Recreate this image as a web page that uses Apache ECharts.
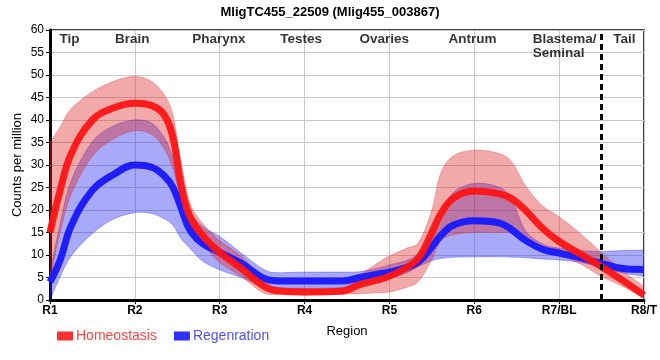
<!DOCTYPE html>
<html><head><meta charset="utf-8">
<script src="https://cdn.jsdelivr.net/npm/echarts@6/dist/echarts.min.js"></script>
<style>html,body{margin:0;padding:0;background:#fff}#c{width:660px;height:360px}</style>
</head><body><div id="c"></div>
<script>
const titleText = 'MligTC455_22509 (Mlig455_003867)';
const xTicks = ['R1','R2','R3','R4','R5','R6','R7/BL','R8/T'];
const regions = ['Tip','Brain','Pharynx','Testes','Ovaries','Antrum','Blastema/\nSeminal','Tail'];
const regionX = [1.23,1.97,2.99,3.96,4.94,5.98,6.69,7.77];
const tailBoundary = 7.5;

const xs =         [1,   1.12, 1.25, 1.5,  1.75, 2,    2.2,  2.35, 2.45, 2.55, 2.65, 2.8,  3,    3.25, 3.5, 3.65, 4,   4.45, 4.65, 4.85, 5,   5.2,  5.35, 5.5,  5.6,  5.75, 6,    6.3,  6.45, 6.6,  6.8,  7,    7.25, 7.5,  7.75, 8];
const homeoMean =  [15,  24.4, 32.5, 40,   42.7, 43.7, 43.2, 41,   36,   25,   18.5, 14.3, 10.6, 7.1,  3.3, 2.1,  1.8, 2.0,  3.4,  4.4,  5.3, 7.2,  9.5,  15,   19,   22.6, 24.2, 23.6, 22.4, 20,   16,   13,   10.2, 7.4,  4.3,  1.1];
const homeoUpper = [35,  38.5, 42.5, 46.3, 48.6, 49.7, 48.5, 45.5, 41,   30,   21.5, 17,   13.2, 9.8,  5,   2.9,  2.6, 2.8,  5.5,  8.1,  9.8, 11.5, 13,   20,   28,   32,   33.3, 32.5, 30.5, 25.5, 21,   18.5, 14.8, 10.5, 6.5,  3];
const homeoLower = [4.5, 15,   23.5, 32,   35.8, 37.6, 36.7, 33.5, 29,   22,   16.5, 12.5, 8.3,  5.3,  1.7, 1.2,  1.1, 1.3,  1.4,  1.6,  1.8, 2.8,  4.3,  9,    13,   14.5, 15,   15,   14.8, 13,   11.5, 10,   8,    5.2,  3,    0.4];
const regenMean =  [4,   8.9,  16.5, 24.4, 27.9, 30,   29.5, 27.5, 25,   20.2, 15.5, 12.5, 10.6, 8.2,  5,   4.3,  4.2, 4.2,  5,    5.7,  6.2, 7.2,  8.6,  11.8, 14.2, 16.6, 17.6, 17.1, 15.5, 13.3, 11.3, 10.4, 9.4,  8.1,  7,    6.8];
const regenUpper = [6,   17,   26.5, 35.2, 38.7, 40,   39.3, 36,   31.5, 23.5, 19.5, 16.3, 14.1, 10.5, 7,   6.1,  6.2, 6.2,  6.3,  7,    7.8, 8.8,  10.5, 14.5, 18.5, 23.8, 25.9, 25,   22,   15.5, 12.5, 11.5, 11,   10.8, 11,   11.1];
const regenLower = [0,   5.2,  9.8,  14.8, 18,   19.4, 19.2, 18,   16.6, 13.5, 11.5, 8.6,  6.7,  5,    3.1, 2.7,  2.6, 2.8,  3.5,  4.3,  4.8, 6,    7.5,  8.7,  9.2,  9.5,  9.6,  9.6,  9.5,  9.4,  9.1,  8.9,  8.4,  7.2,  6,    5.3];

const pts = ys => xs.map((x, i) => [x, ys[i]]);

// smooth curve through screen points (Catmull-Rom -> cubic Bezier)
function curveSegs(p) {
  let s = '';
  for (let i = 0; i < p.length - 1; i++) {
    const p0 = p[Math.max(i - 1, 0)], p1 = p[i], p2 = p[i + 1], p3 = p[Math.min(i + 2, p.length - 1)];
    const c1 = [p1[0] + (p2[0] - p0[0]) / 6, p1[1] + (p2[1] - p0[1]) / 6];
    const c2 = [p2[0] - (p3[0] - p1[0]) / 6, p2[1] - (p3[1] - p1[1]) / 6];
    s += 'C' + c1[0].toFixed(2) + ',' + c1[1].toFixed(2) + ' ' + c2[0].toFixed(2) + ',' + c2[1].toFixed(2) + ' ' + p2[0].toFixed(2) + ',' + p2[1].toFixed(2);
  }
  return s;
}
function bandRenderer(hi, lo, fill, stroke) {
  return function (params, api) {
    const up = xs.map((x, i) => api.coord([x, hi[i]]));
    const dn = xs.map((x, i) => api.coord([x, lo[i]])).reverse();
    const d = 'M' + up[0][0] + ',' + up[0][1] + curveSegs(up) + 'L' + dn[0][0] + ',' + dn[0][1] + curveSegs(dn) + 'Z';
    return { type: 'path', shape: { pathData: d }, style: { fill: fill, stroke: stroke, lineWidth: 1 } };
  };
}

const FONT = 'Liberation Sans, Arial, sans-serif';
const SM = 0.4;
const chart = echarts.init(document.getElementById('c'));

const regionData = regions.map((r, i) => {
  const d = { name: r, value: [regionX[i], 57.9] };
  if (r.indexOf('\n') >= 0) {
    d.value = [regionX[i], 59.4];
    d.label = { align: 'left', verticalAlign: 'top' };
  }
  return d;
});

chart.setOption({
  animation: false,
  backgroundColor: '#fff',
  textStyle: { fontFamily: FONT },
  title: {
    text: titleText, left: 'center', top: 1,
    textStyle: { fontSize: 13, fontWeight: 'bold', color: '#000', fontFamily: FONT }
  },
  grid: { left: 50, right: 10, top: 30, bottom: 60, show: true, borderColor: '#000', borderWidth: 1.5, containLabel: false },
  legend: {
    left: 52, top: 324, icon: 'rect', itemWidth: 16, itemHeight: 9, itemGap: 17,
    textStyle: { fontSize: 14, fontFamily: FONT, padding: [0, 0, 0, -2] },
    data: [
      { name: 'Homeostasis', itemStyle: { color: '#ff3030' }, textStyle: { color: '#ff4646' } },
      { name: 'Regenration', itemStyle: { color: '#3030ff' }, textStyle: { color: '#5050ff' } }
    ],
    selectedMode: false
  },
  xAxis: {
    type: 'value', min: 1, max: 8, interval: 1,
    name: 'Region', nameLocation: 'middle', nameGap: 25, nameMoveOverlap: false,
    nameTextStyle: { fontSize: 13, color: '#000', fontFamily: FONT },
    axisLine: { show: true, onZero: false, lineStyle: { color: '#000', width: 3 } },
    axisTick: { show: true, length: 4, lineStyle: { color: '#000', width: 1 } },
    axisLabel: { formatter: v => xTicks[Math.round(v) - 1] || '', fontSize: 12, fontWeight: 'bold', color: '#000', margin: 5, fontFamily: FONT },
    splitLine: { show: true, lineStyle: { color: '#c8c8c8', width: 1 } }
  },
  yAxis: {
    type: 'value', min: 0, max: 60, interval: 5,
    name: 'Counts per million', nameLocation: 'middle', nameGap: 26, nameMoveOverlap: false,
    nameTextStyle: { fontSize: 13, color: '#000', fontFamily: FONT },
    axisLine: { show: true, lineStyle: { color: '#000', width: 3 } },
    axisTick: { show: true, length: 4, lineStyle: { color: '#000', width: 1 } },
    axisLabel: { fontSize: 12, color: '#000', margin: 6, fontFamily: FONT },
    splitLine: { show: true, lineStyle: { color: '#c8c8c8', width: 1 } }
  },
  series: [
    { name: 'regenBand', type: 'custom', coordinateSystem: 'cartesian2d', clip: true, silent: true,
      data: [[1, 0]], renderItem: bandRenderer(regenUpper, regenLower, 'rgba(40,40,240,0.4)', 'rgba(40,40,240,0.35)') },
    { name: 'Regenration', type: 'line', data: pts(regenMean), smooth: SM, symbol: 'none', silent: true,
      lineStyle: { color: '#1e1eff', width: 7 }, itemStyle: { color: '#3030ff' } },
    { name: 'homeoBand', type: 'custom', coordinateSystem: 'cartesian2d', clip: true, silent: true,
      data: [[1, 0]], renderItem: bandRenderer(homeoUpper, homeoLower, 'rgba(220,40,40,0.4)', 'rgba(220,40,40,0.3)') },
    { name: 'Homeostasis', type: 'line', data: pts(homeoMean), smooth: SM, symbol: 'none', silent: true,
      lineStyle: { color: 'rgba(255,20,20,0.95)', width: 7 }, itemStyle: { color: '#ff3030' },
      markLine: { silent: true, symbol: 'none', label: { show: false },
        lineStyle: { color: '#000', width: 3, type: [6, 4] },
        data: [{ xAxis: tailBoundary }] } },
    { name: 'regions', type: 'scatter', data: regionData, symbolSize: 0, silent: true,
      label: { show: true, position: 'inside', formatter: p => p.name, fontSize: 13.5, fontWeight: 'bold', color: '#000',
        fontFamily: FONT, lineHeight: 14, align: 'center', verticalAlign: 'middle' } }
  ]
});
</script></body></html>
